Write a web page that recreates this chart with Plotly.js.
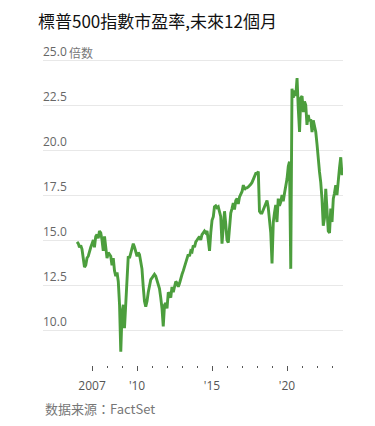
<!DOCTYPE html>
<html>
<head>
<meta charset="utf-8">
<script src="https://cdn.plot.ly/plotly-3.0.1.min.js"></script>
<style>
  html, body { margin: 0; padding: 0; background: #fff; }
  #chart { width: 375px; height: 426px; }
</style>
</head>
<body>
<div id="chart"></div>
<script>
// Monthly forward P/E of the S&P 500, starting Jan 2006
const startYear = 2006;
const pe2006 = [14.9,14.8,14.6,14.7,14.5,14.0,13.5,13.6,14.0,14.1,14.4,14.6];
const pe2007 = [14.8,15.0,14.6,15.2,15.3,15.1,15.5,15.4,15.0,14.4,15.2,14.6];
const pe2008 = [14.0,14.3,14.2,14.1,13.6,14.0,13.3,13.0,13.2,12.7,11.4,8.8];
const pe2009 = [11.0,11.4,10.1,11.5,13.0,14.1,14.0,14.3,14.5,14.8,14.6,14.4];
const pe2010 = [14.1,14.3,14.2,13.8,13.4,12.4,11.6,11.3,11.6,12.1,12.5,12.8];
const pe2011 = [12.9,13.0,13.1,13.0,12.8,12.6,12.3,11.8,11.2,10.2,11.4,11.5];
const pe2012 = [11.2,12.1,12.0,11.8,12.4,12.1,12.5,12.7,12.6,12.4,12.6,12.9];
const pe2013 = [13.1,13.3,13.5,13.7,13.9,14.2,14.1,14.4,14.35,14.7,14.6,14.9];
const pe2014 = [15.0,15.1,15.2,15.0,15.3,15.4,15.5,15.4,15.5,15.0,14.4,15.4];
const pe2015 = [16.1,16.3,16.85,16.9,16.8,16.85,16.5,16.3,14.8,16.0,16.6,15.9];
const pe2016 = [15.0,14.85,15.8,16.5,16.75,17.05,16.7,17.2,17.3,17.0,17.4,17.6];
const pe2017 = [17.7,18.05,17.8,17.9,17.9,17.95,18.0,18.1,18.2,18.4,18.6,18.7];
const pe2018 = [18.7,18.8,16.6,16.5,16.5,16.7,16.9,17.05,17.2,16.8,15.8,15.4];
const pe2019 = [13.7,16.0,16.5,16.95,16.0,17.3,16.9,17.1,17.5,17.15,17.6,18.0];
const pe2020 = [18.4,19.1,19.35,13.4,23.4,22.9,23.3,23.0,24.0,22.3,21.0,22.9];
const pe2021 = [23.0,22.1,22.7,22.5,21.4,21.95,21.6,21.7,21.0,21.65,21.3,21.0];
const pe2022 = [20.3,19.2,18.8,18.2,17.3,15.8,16.2,17.85,16.4,15.5,15.4,16.75];
const pe2023 = [16.0,17.3,17.6,18.05,17.5,18.4,19.0,19.6,18.6];

const yTickVals = [10, 12.5, 15, 17.5, 20, 22.5, 25];
const yTickText = ['10.0', '12.5', '15.0', '17.5', '20.0', '22.5', '25.0'];
const yUnitText = '倍数';
const xMajorYears = [2007, 2010, 2015, 2020];
const xMajorText = ['2007', "'10", "'15", "'20"];
const xMinorYears = [2008, 2009, 2011, 2012, 2013, 2014, 2016, 2017, 2018, 2019, 2021, 2022, 2023];

const titleText = '標普500指數市盈率,未來12個月';
const sourceText = '数据来源：FactSet';

const allYears = [pe2006, pe2007, pe2008, pe2009, pe2010, pe2011, pe2012, pe2013, pe2014,
                  pe2015, pe2016, pe2017, pe2018, pe2019, pe2020, pe2021, pe2022, pe2023];
const xs = [], ys = [];
allYears.forEach((arr, i) => {
  arr.forEach((v, m) => {
    const mm = String(m + 1).padStart(2, '0');
    xs.push((startYear + i) + '-' + mm + '-01');
    ys.push(v);
  });
});

const trace = {
  x: xs, y: ys, type: 'scatter', mode: 'lines',
  line: { color: '#4c9e3d', width: 2.9 },
  hoverinfo: 'skip'
};

const layout = {
  width: 375, height: 426,
  margin: { l: 43, r: 32, t: 42, b: 61 },
  paper_bgcolor: '#fff', plot_bgcolor: '#fff',
  showlegend: false,
  title: {
    text: titleText,
    x: 38 / 375, xanchor: 'left', xref: 'container',
    y: 1 - 22 / 426, yanchor: 'middle', yref: 'container',
    font: { family: '"Noto Sans CJK TC", "Noto Sans", sans-serif', size: 17, color: '#111' }
  },
  xaxis: {
    type: 'date',
    range: ['2003-09-25', '2023-09-25'],
    showgrid: false, zeroline: false, showline: false,
    tickmode: 'array',
    tickvals: xMajorYears.map(y => y + '-01-01'),
    ticktext: xMajorText,
    ticks: 'outside', ticklen: 5, tickwidth: 1, tickcolor: '#555',
    ticklabelstandoff: 5,
    tickfont: { family: '"Open Sans", sans-serif', size: 12, color: '#555' },
    minor: {
      tickmode: 'array',
      tickvals: xMinorYears.map(y => y + '-01-01'),
      ticks: 'outside', ticklen: 2, tickwidth: 1, tickcolor: '#555', showgrid: false
    },
    fixedrange: true
  },
  yaxis: {
    range: [8.06, 26],
    tickmode: 'array', tickvals: yTickVals, ticktext: yTickText,
    showgrid: true, gridcolor: '#e8e8e8', gridwidth: 1,
    zeroline: false, showline: false, ticks: '',
    ticklabelposition: 'inside top',
    ticklabelstandoff: -3,
    tickfont: { family: '"Open Sans", "Noto Sans CJK SC", sans-serif', size: 12, color: '#666' },
    fixedrange: true
  },
  annotations: [{
    text: yUnitText, showarrow: false,
    xref: 'paper', x: (67 - 43) / 300, xanchor: 'left',
    yref: 'paper', y: (365 - 53) / 323, yanchor: 'middle',
    font: { family: '"Noto Sans CJK SC", sans-serif', size: 12, color: '#777' }
  }, {
    text: sourceText, showarrow: false,
    xref: 'paper', x: 0, xanchor: 'left',
    yref: 'paper', y: (365 - 408) / 323, yanchor: 'middle',
    font: { family: '"Noto Sans CJK TC", sans-serif', size: 13, color: '#777' }
  }]
};

Plotly.newPlot('chart', [trace], layout, { displayModeBar: false, staticPlot: true });
</script>
</body>
</html>
